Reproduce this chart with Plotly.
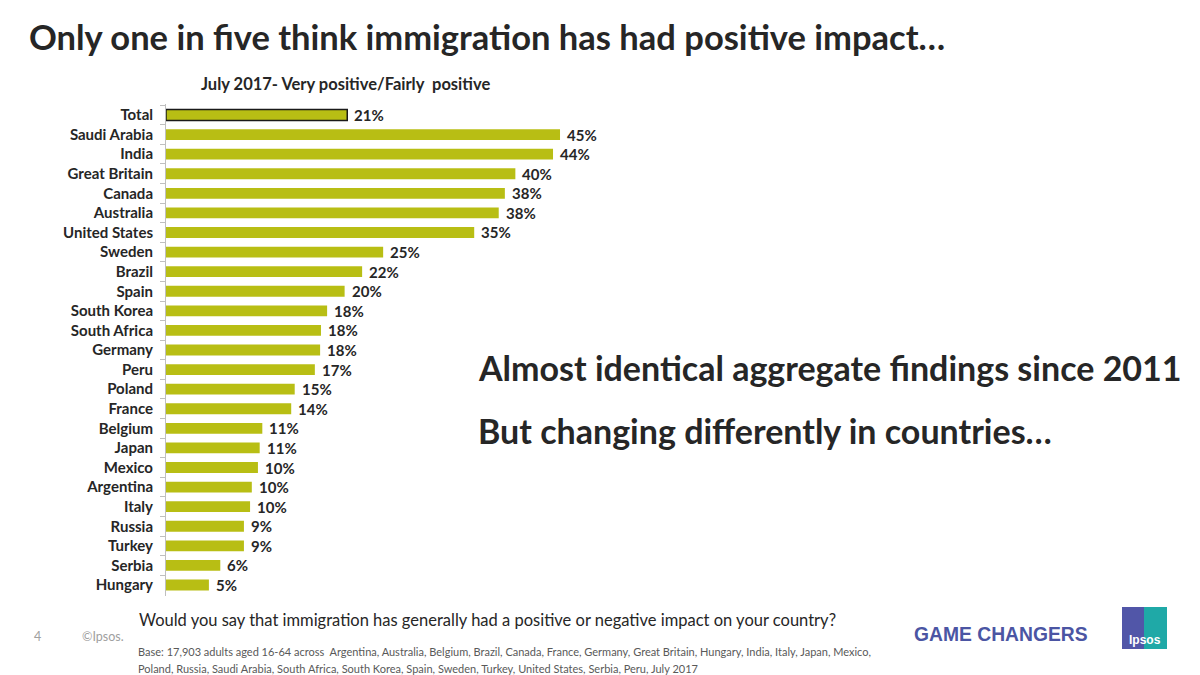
import plotly.graph_objects as go

categories = ["Total", "Saudi Arabia", "India", "Great Britain", "Canada", "Australia",
              "United States", "Sweden", "Brazil", "Spain", "South Korea", "South Africa",
              "Germany", "Peru", "Poland", "France", "Belgium", "Japan", "Mexico",
              "Argentina", "Italy", "Russia", "Turkey", "Serbia", "Hungary"]
# bar lengths (unrounded survey values)
values = [20.7, 45.0, 44.2, 39.9, 38.7, 38.0, 35.2, 24.8, 22.4, 20.4, 18.4, 17.7,
          17.6, 17.0, 14.7, 14.3, 11.0, 10.7, 10.5, 9.8, 9.6, 8.9, 8.9, 6.2, 4.9]
# printed data labels
labels = ["21%", "45%", "44%", "40%", "38%", "38%", "35%", "25%", "22%", "20%", "18%", "18%",
          "18%", "17%", "15%", "14%", "11%", "11%", "10%", "10%", "10%", "9%", "9%", "6%", "5%"]

BAR = "#B8BE14"
DARK = "#262626"
FONT = "Lato"

fig = go.Figure()
fig.add_trace(go.Bar(
    x=values, y=categories, orientation="h",
    marker=dict(color=BAR,
                line=dict(color=["#1a1a1a"] + [BAR] * (len(values) - 1),
                          width=[1.5] + [0] * (len(values) - 1))),
    width=0.55, hoverinfo="skip",
))

annotations = []
for c, v, t in zip(categories, values, labels):
    annotations.append(dict(x=v, y=c, xref="x", yref="y", text=t, showarrow=False,
                            xanchor="left", yanchor="middle", xshift=5, yshift=0,
                            font=dict(family=FONT, size=15, color=DARK, weight="bold")))

def ptxt(x, y, text, size, color=DARK, bold=False, xanchor="left", family=FONT):
    annotations.append(dict(x=x / 1200, y=1 - y / 675, xref="paper", yref="paper",
                            text=text, showarrow=False, xanchor=xanchor, yanchor="middle",
                            font=dict(family=family, size=size, color=color,
                                      weight="bold" if bold else "normal")))

ptxt(27, 36, "Only one in five think immigration has had positive impact…", 34.5, bold=True)
ptxt(345, 84, "July 2017- Very positive/Fairly  positive", 16.5, bold=True, xanchor="center")
ptxt(476, 367, "Almost identical aggregate findings since 2011", 34, bold=True)
ptxt(476, 430, "But changing differently in countries…", 34, bold=True)
ptxt(137, 620, "Would you say that immigration has generally had a positive or negative impact on your country?", 16.5)
ptxt(32, 636, "4", 12.5, color="#A0A0A0")
ptxt(80, 636, "©Ipsos.", 12.5, color="#A0A0A0")
ptxt(136, 651, "Base: 17,903 adults aged 16-64 across  Argentina, Australia, Belgium, Brazil, Canada, France, Germany, Great Britain, Hungary, India, Italy, Japan, Mexico,", 11, color="#595959")
ptxt(136, 668, "Poland, Russia, Saudi Arabia, South Africa, South Korea, Spain, Sweden, Turkey, United States, Serbia, Peru, July 2017", 11, color="#595959")
ptxt(1001, 634, "GAME CHANGERS", 19.3, color="#4B55A3", bold=True, xanchor="center", family="Liberation Sans")

shapes = [
    dict(type="rect", xref="paper", yref="paper", x0=1122 / 1200, x1=1144 / 1200,
         y0=1 - 649 / 675, y1=1 - 607 / 675, fillcolor="#5156A8", line=dict(width=0)),
    dict(type="rect", xref="paper", yref="paper", x0=1144 / 1200, x1=1167 / 1200,
         y0=1 - 649 / 675, y1=1 - 607 / 675, fillcolor="#1FA9A7", line=dict(width=0)),
]
annotations.append(dict(x=1144.5 / 1200, y=1 - 640 / 675, xref="paper", yref="paper",
                        text="Ipsos", showarrow=False, xanchor="center", yanchor="middle",
                        font=dict(family="Liberation Sans", size=12, color="white", weight="bold")))

fig.update_layout(
    width=1200, height=675,
    margin=dict(l=0, r=0, t=0, b=0),
    paper_bgcolor="white", plot_bgcolor="white",
    showlegend=False,
    xaxis=dict(domain=[166 / 1200, (166 + 60 * 8.756) / 1200], range=[0, 60],
               visible=False, fixedrange=True),
    yaxis=dict(domain=[(675 - 596) / 675, (675 - 104) / 675], autorange="reversed",
               showline=True, linecolor="#BFBFBF", linewidth=1,
               ticks="outside", tickson="boundaries", ticklen=5, tickcolor="#BFBFBF",
               ticklabelstandoff=9,
               tickfont=dict(family=FONT, size=15, color=DARK, weight="bold"),
               showgrid=False, zeroline=False, fixedrange=True),
    annotations=annotations,
    shapes=shapes,
)

fig.write_html("out.html", config={"displayModeBar": False},
               post_script="document.body.style.margin='0';")
